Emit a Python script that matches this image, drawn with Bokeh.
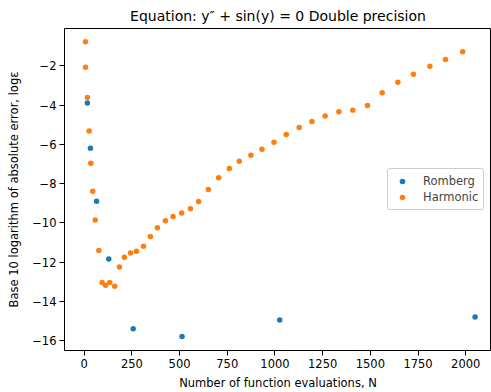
from bokeh.plotting import figure
from bokeh.models import Range1d, FixedTicker, Legend, LegendItem
from bokeh.embed import file_html
from bokeh.resources import INLINE

romberg_n = [17, 33, 65, 129, 257, 513, 1025, 2049]
romberg_err = [-3.9, -6.2, -8.9, -11.85, -15.4, -15.8, -14.95, -14.8]

harmonic_n = [7, 7, 17, 26, 35, 45, 58, 77, 94, 112, 134, 160, 185, 211, 243, 274,
              311, 347, 384, 426, 466, 511, 557, 600, 651, 705, 761, 813, 874, 932,
              995, 1059, 1127, 1194, 1263, 1335, 1408, 1485, 1562, 1644, 1726, 1812,
              1894, 1984]
harmonic_err = [-0.78, -2.08, -3.62, -5.32, -6.97, -8.39, -9.86, -11.42, -13.04, -13.18,
                -13.04, -13.23, -12.26, -11.76, -11.54, -11.45, -11.2, -10.7, -10.26,
                -9.9, -9.68, -9.5, -9.28, -8.92, -8.31, -7.71, -7.23, -6.87, -6.56,
                -6.26, -5.9, -5.5, -5.15, -4.84, -4.56, -4.34, -4.26, -4.03, -3.37,
                -2.84, -2.43, -2.03, -1.68, -1.28]

x_ticks = [0, 250, 500, 750, 1000, 1250, 1500, 1750, 2000]
y_ticks = [-16, -14, -12, -10, -8, -6, -4, -2]

FONT = "DejaVu Sans"

p = figure(width=491, height=392, output_backend="svg", toolbar_location=None,
           x_range=Range1d(-103, 2135), y_range=Range1d(-16.51, -0.1),
           min_border_left=64, min_border_right=0, min_border_top=4, min_border_bottom=42)

p.title.text = "Equation: y\u2033 + sin(y) = 0 Double precision"
p.title.align = "center"
p.title.text_font = FONT
p.title.text_font_size = "14px"
p.title.text_font_style = "normal"
p.title.text_color = "black"

p.xgrid.visible = False
p.ygrid.visible = False
p.outline_line_color = "black"
p.outline_line_width = 1
p.outline_line_alpha = 1

for ax in (p.xaxis[0], p.yaxis[0]):
    ax.axis_line_color = None
    ax.major_tick_line_color = "black"
    ax.major_tick_out = 5
    ax.major_tick_in = 0
    ax.minor_tick_line_color = None
    ax.major_label_text_font = FONT
    ax.major_label_text_font_size = "11.5px"
    ax.major_label_text_color = "black"
    ax.axis_label_text_font = FONT
    ax.axis_label_text_font_size = "11.5px"
    ax.axis_label_text_font_style = "normal"
    ax.axis_label_text_color = "black"

p.xaxis.ticker = FixedTicker(ticks=x_ticks)
p.yaxis.ticker = FixedTicker(ticks=y_ticks)
p.yaxis.major_label_overrides = {t: "\u2212" + str(abs(t)) for t in y_ticks}
p.xaxis.axis_label = "Number of function evaluations, N"
p.yaxis.axis_label = "Base 10 logarithm of absolute error, log\u03b5"
p.xaxis.major_label_standoff = 3
p.yaxis.major_label_standoff = 3
p.xaxis.axis_label_standoff = 5
p.yaxis.axis_label_standoff = 8

r1 = p.scatter(romberg_n, romberg_err, size=5.5, color="#1f77b4", line_color=None)
r2 = p.scatter(harmonic_n, harmonic_err, size=5.5, color="#ff7f0e", line_color=None)

legend = Legend(items=[LegendItem(label="Romberg", renderers=[r1]),
                       LegendItem(label="Harmonic", renderers=[r2])],
                location=(323, 140))
legend.label_text_font = FONT
legend.label_text_font_size = "11.5px"
legend.border_line_color = "#cccccc"
legend.border_line_alpha = 1
legend.border_radius = 3
legend.background_fill_alpha = 0.8
legend.glyph_width = 18
legend.glyph_height = 14
legend.spacing = 2
legend.padding = 5
legend.margin = 0
legend.label_standoff = 12
p.add_layout(legend)

open("out.html", "w").write(file_html(p, INLINE))
